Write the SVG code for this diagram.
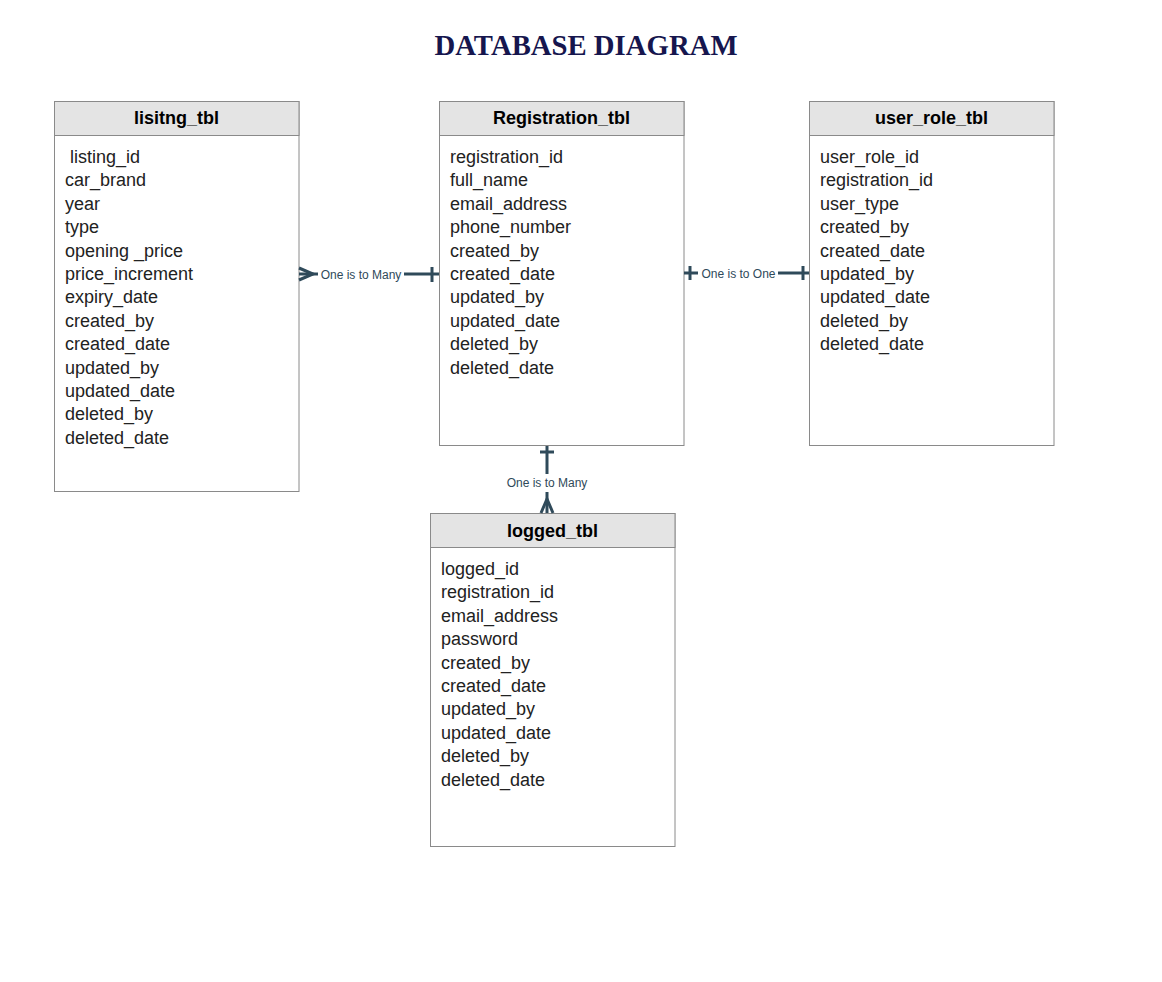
<svg xmlns="http://www.w3.org/2000/svg" width="1162" height="982" viewBox="0 0 1162 982">
<style>
.box{fill:#fff;stroke:#8a8a8a;stroke-width:1}
.hdr{fill:#e4e4e4;stroke:#8a8a8a;stroke-width:1}
.ht{font-family:"Liberation Sans",Arial,sans-serif;font-size:18px;font-weight:bold;fill:#000;text-anchor:middle}
.rt{font-family:"Liberation Sans",Arial,sans-serif;font-size:18px;fill:#222}
.cn{stroke:#2f4a5a;stroke-width:3;fill:none}
.lb{font-family:"Liberation Sans",Arial,sans-serif;font-size:12px;fill:#2f4a5a}
</style>
<rect width="1162" height="982" fill="#fff"/>
<text x="586" y="55" font-family="'Liberation Serif',serif" font-size="29" font-weight="bold" fill="#16164e" text-anchor="middle" textLength="303" lengthAdjust="spacingAndGlyphs">DATABASE DIAGRAM</text>

<g id="listing_tbl">
<rect class="box" x="54.5" y="101.5" width="244.5" height="390"/>
<rect class="hdr" x="54.5" y="101.5" width="244.5" height="34"/>
<text class="ht" x="176.5" y="124">lisitng_tbl</text>
<g class="rt">
<text x="65" y="163" xml:space="preserve"> listing_id</text>
<text x="65" y="186.4">car_brand</text>
<text x="65" y="209.8">year</text>
<text x="65" y="233.2">type</text>
<text x="65" y="256.6">opening _price</text>
<text x="65" y="280">price_increment</text>
<text x="65" y="303.4">expiry_date</text>
<text x="65" y="326.8">created_by</text>
<text x="65" y="350.2">created_date</text>
<text x="65" y="373.6">updated_by</text>
<text x="65" y="397">updated_date</text>
<text x="65" y="420.4">deleted_by</text>
<text x="65" y="443.8">deleted_date</text>
</g>
</g>

<g id="registration_tbl">
<rect class="box" x="439.5" y="101.5" width="244.5" height="344"/>
<rect class="hdr" x="439.5" y="101.5" width="244.5" height="34"/>
<text class="ht" x="561.5" y="124">Registration_tbl</text>
<g class="rt">
<text x="450" y="163">registration_id</text>
<text x="450" y="186.4">full_name</text>
<text x="450" y="209.8">email_address</text>
<text x="450" y="233.2">phone_number</text>
<text x="450" y="256.6">created_by</text>
<text x="450" y="280">created_date</text>
<text x="450" y="303.4">updated_by</text>
<text x="450" y="326.8">updated_date</text>
<text x="450" y="350.2">deleted_by</text>
<text x="450" y="373.6">deleted_date</text>
</g>
</g>

<g id="user_role_tbl">
<rect class="box" x="809.5" y="101.5" width="244.5" height="344"/>
<rect class="hdr" x="809.5" y="101.5" width="244.5" height="34"/>
<text class="ht" x="931.5" y="124">user_role_tbl</text>
<g class="rt">
<text x="820" y="163">user_role_id</text>
<text x="820" y="186.4">registration_id</text>
<text x="820" y="209.8">user_type</text>
<text x="820" y="233.2">created_by</text>
<text x="820" y="256.6">created_date</text>
<text x="820" y="280">updated_by</text>
<text x="820" y="303.4">updated_date</text>
<text x="820" y="326.8">deleted_by</text>
<text x="820" y="350.2">deleted_date</text>
</g>
</g>

<g id="logged_tbl">
<rect class="box" x="430.5" y="513.5" width="244.5" height="333"/>
<rect class="hdr" x="430.5" y="513.5" width="244.5" height="34"/>
<text class="ht" x="552.5" y="537">logged_tbl</text>
<g class="rt">
<text x="441" y="575">logged_id</text>
<text x="441" y="598.4">registration_id</text>
<text x="441" y="621.8">email_address</text>
<text x="441" y="645.2">password</text>
<text x="441" y="668.6">created_by</text>
<text x="441" y="692">created_date</text>
<text x="441" y="715.4">updated_by</text>
<text x="441" y="738.8">updated_date</text>
<text x="441" y="762.2">deleted_by</text>
<text x="441" y="785.6">deleted_date</text>
</g>
</g>

<g id="connectors">
<path class="cn" d="M299 274 H318"/>
<path class="cn" d="M299 268 L313 274 L299 280"/>
<path class="cn" d="M404 274 H439"/>
<path class="cn" d="M432 267 V282"/>
<text class="lb" x="361" y="279" text-anchor="middle">One is to Many</text>
<path class="cn" d="M684 273 H698"/>
<path class="cn" d="M690 266 V280"/>
<path class="cn" d="M778 273 H809"/>
<path class="cn" d="M803 266 V280"/>
<text class="lb" x="738.5" y="277.5" text-anchor="middle">One is to One</text>
<path class="cn" d="M547 446 V474"/>
<path class="cn" d="M540 452 H554"/>
<path class="cn" d="M547 492 V513"/>
<path class="cn" d="M541 513 L547 499 L553 513"/>
<text class="lb" x="547" y="487" text-anchor="middle">One is to Many</text>
</g>
</svg>
